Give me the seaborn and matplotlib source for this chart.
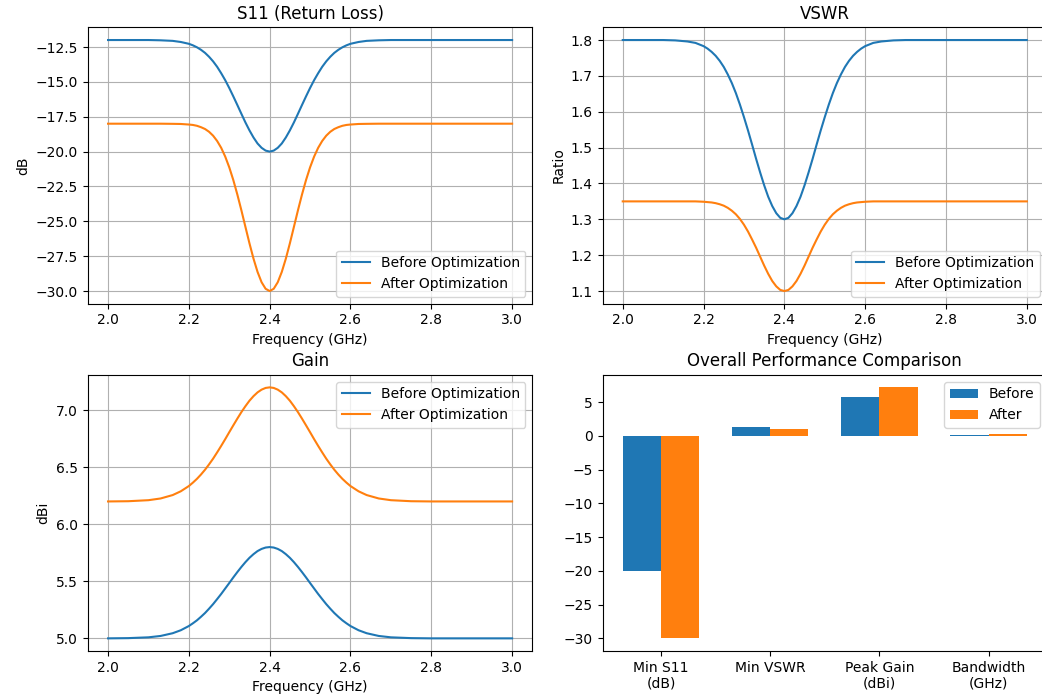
import matplotlib
matplotlib.use("Agg")
import matplotlib.pyplot as plt
import pandas as pd
import seaborn as sns

# frequency samples (GHz)
freq = [2.0, 2.05, 2.1, 2.13, 2.16, 2.18,
        2.2, 2.21, 2.22, 2.23, 2.24, 2.25, 2.26, 2.27, 2.28, 2.29,
        2.3, 2.31, 2.32, 2.33, 2.34, 2.35, 2.36, 2.37, 2.38, 2.39,
        2.4, 2.41, 2.42, 2.43, 2.44, 2.45, 2.46, 2.47, 2.48, 2.49,
        2.5, 2.51, 2.52, 2.53, 2.54, 2.55, 2.56, 2.57, 2.58, 2.59,
        2.6, 2.62, 2.64, 2.67, 2.7, 2.75, 2.8, 2.9, 3.0]

s11_before = [-12.0, -12.0, -12.0, -12.02, -12.06, -12.14,
              -12.27, -12.38, -12.52, -12.7, -12.92, -13.2, -13.53, -13.92, -14.38, -14.88,
              -15.44, -16.04, -16.66, -17.29, -17.91, -18.48, -18.99, -19.42, -19.73, -19.93,
              -20.0, -19.93, -19.73, -19.42, -18.99, -18.48, -17.91, -17.29, -16.66, -16.04,
              -15.44, -14.88, -14.38, -13.92, -13.53, -13.2, -12.92, -12.7, -12.52, -12.38,
              -12.27, -12.14, -12.06, -12.02, -12.0, -12.0, -12.0, -12.0, -12.0]
s11_after = [-18.0, -18.0, -18.0, -18.0, -18.01, -18.02,
             -18.06, -18.09, -18.15, -18.25, -18.38, -18.58, -18.86, -19.24, -19.73, -20.36,
             -21.13, -22.04, -23.08, -24.21, -25.4, -26.58, -27.68, -28.63, -29.37, -29.84,
             -30.0, -29.84, -29.37, -28.63, -27.68, -26.58, -25.4, -24.21, -23.08, -22.04,
             -21.13, -20.36, -19.73, -19.24, -18.86, -18.58, -18.38, -18.25, -18.15, -18.09,
             -18.06, -18.02, -18.01, -18.0, -18.0, -18.0, -18.0, -18.0, -18.0]

vswr_before = [1.8, 1.8, 1.8, 1.799, 1.796, 1.792,
               1.783, 1.776, 1.767, 1.756, 1.742, 1.725, 1.704, 1.68, 1.652, 1.62,
               1.585, 1.548, 1.509, 1.469, 1.431, 1.395, 1.363, 1.337, 1.317, 1.304,
               1.3, 1.304, 1.317, 1.337, 1.363, 1.395, 1.431, 1.469, 1.509, 1.548,
               1.585, 1.62, 1.652, 1.68, 1.704, 1.725, 1.742, 1.756, 1.767, 1.776,
               1.783, 1.792, 1.796, 1.799, 1.8, 1.8, 1.8, 1.8, 1.8]
vswr_after = [1.35, 1.35, 1.35, 1.35, 1.35, 1.35,
              1.349, 1.348, 1.347, 1.345, 1.342, 1.338, 1.332, 1.324, 1.314, 1.301,
              1.285, 1.266, 1.244, 1.221, 1.196, 1.171, 1.148, 1.128, 1.113, 1.103,
              1.1, 1.103, 1.113, 1.128, 1.148, 1.171, 1.196, 1.221, 1.244, 1.266,
              1.285, 1.301, 1.314, 1.324, 1.332, 1.338, 1.342, 1.345, 1.347, 1.348,
              1.349, 1.35, 1.35, 1.35, 1.35, 1.35, 1.35, 1.35, 1.35]

gain_before = [5.0, 5.002, 5.009, 5.021, 5.045, 5.071,
               5.108, 5.132, 5.158, 5.189, 5.222, 5.26, 5.3, 5.344, 5.389, 5.437,
               5.485, 5.534, 5.581, 5.626, 5.668, 5.706, 5.738, 5.765, 5.784, 5.796,
               5.8, 5.796, 5.784, 5.765, 5.738, 5.706, 5.668, 5.626, 5.581, 5.534,
               5.485, 5.437, 5.389, 5.344, 5.3, 5.26, 5.222, 5.189, 5.158, 5.132,
               5.108, 5.071, 5.045, 5.021, 5.009, 5.002, 5.0, 5.0, 5.0]
gain_after = [6.2, 6.202, 6.211, 6.226, 6.256, 6.289,
              6.335, 6.365, 6.398, 6.436, 6.478, 6.525, 6.575, 6.63, 6.687, 6.746,
              6.807, 6.867, 6.926, 6.983, 7.035, 7.083, 7.123, 7.156, 7.18, 7.195,
              7.2, 7.195, 7.18, 7.156, 7.123, 7.083, 7.035, 6.983, 6.926, 6.867,
              6.807, 6.746, 6.687, 6.63, 6.575, 6.525, 6.478, 6.436, 6.398, 6.365,
              6.335, 6.289, 6.256, 6.226, 6.211, 6.202, 6.2, 6.2, 6.2]

# summary bars
metrics = ["Min S11\n(dB)", "Min VSWR", "Peak Gain\n(dBi)", "Bandwidth\n(GHz)"]
summary_before = [-20.0, 1.3, 5.8, 0.2]
summary_after = [-30.0, 1.1, 7.2, 0.22]

blue = "#1f77b4"
orange = "#ff7f0e"

fig, axes = plt.subplots(2, 2, figsize=(10.42, 6.94), dpi=100)
plt.subplots_adjust(left=0.0843, right=1.0048, bottom=0.0621, top=0.9604,
                    wspace=0.158, hspace=0.258)

line_panels = [
    (axes[0, 0], s11_before, s11_after, "S11 (Return Loss)", "dB", "lower right"),
    (axes[0, 1], vswr_before, vswr_after, "VSWR", "Ratio", "lower right"),
    (axes[1, 0], gain_before, gain_after, "Gain", "dBi", "upper right"),
]

for ax, before, after, title, ylabel, loc in line_panels:
    sns.lineplot(x=freq, y=before, color=blue, label="Before Optimization", ax=ax)
    sns.lineplot(x=freq, y=after, color=orange, label="After Optimization", ax=ax)
    ax.set_title(title)
    ax.set_xlabel("Frequency (GHz)")
    ax.set_ylabel(ylabel)
    ax.grid(True)
    ax.legend(loc=loc)

df = pd.DataFrame({
    "metric": metrics * 2,
    "value": summary_before + summary_after,
    "state": ["Before"] * len(metrics) + ["After"] * len(metrics),
})

ax = axes[1, 1]
sns.barplot(data=df, x="metric", y="value", hue="state", palette=[blue, orange],
            width=0.7, saturation=1, errorbar=None, linewidth=0, ax=ax)
ax.set_xlim(-0.535, 3.535)
ax.set_title("Overall Performance Comparison")
ax.set_xlabel("")
ax.set_ylabel("")
sns.move_legend(ax, "upper right", title=None)

plt.savefig("out.png", dpi=100)
plt.close()
